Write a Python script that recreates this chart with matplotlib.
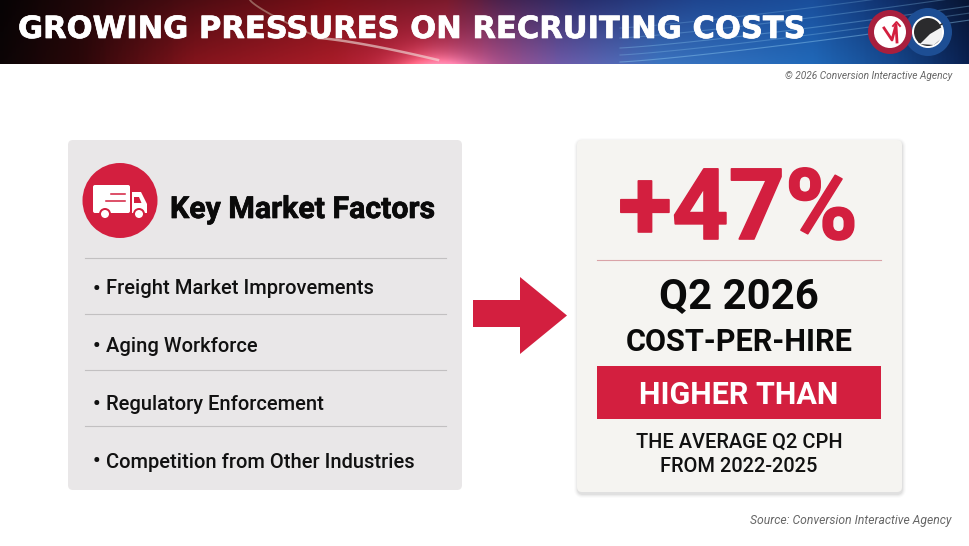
import numpy as np
import matplotlib
matplotlib.use("Agg")
import matplotlib.pyplot as plt
import matplotlib.patheffects as pe
from matplotlib.colors import LinearSegmentedColormap
from matplotlib.patches import FancyBboxPatch, Circle, Rectangle, Polygon

plt.rcParams['font.family'] = ['Roboto', 'DejaVu Sans']

TITLE = "GROWING PRESSURES ON RECRUITING COSTS"
COPYRIGHT = "© 2026 Conversion Interactive Agency"
SOURCE = "Source: Conversion Interactive Agency"
CARD_HEADING = "Key Market Factors"
FACTORS = ["Freight Market Improvements", "Aging Workforce",
           "Regulatory Enforcement", "Competition from Other Industries"]
STAT = "+47%"
PERIOD = "Q2 2026"
METRIC = "COST-PER-HIRE"
BADGE = "HIGHER THAN"
COMPARISON = ["THE AVERAGE Q2 CPH", "FROM 2022-2025"]

RED = "#d31f3f"
GREY_CARD = "#e9e7e8"
LIGHT_CARD = "#f5f4f1"

fig = plt.figure(figsize=(9.7, 5.46), dpi=100, facecolor="white")
# whole figure in pixel coords, y going down
ax = fig.add_axes([0, 0, 1, 1])
ax.set_xlim(0, 970)
ax.set_ylim(546, 0)
ax.axis("off")


def rounded(x, y, w, h, color, r=5, z=2):
    p = FancyBboxPatch((x + r, y + r), w - 2 * r, h - 2 * r,
                       boxstyle="round,pad=%d,rounding_size=%d" % (r, r),
                       fc=color, ec="none", zorder=z)
    ax.add_patch(p)
    return p


# Banner: colour runs left to right, darker along the top, with a glow low in the middle
banner_top = LinearSegmentedColormap.from_list("top", [
    (0.00, "#070304"), (0.08, "#200709"), (0.20, "#4e0c12"), (0.34, "#7a1018"),
    (0.46, "#7c1a2c"), (0.52, "#4a2350"), (0.60, "#2a2f6e"), (0.72, "#1f4690"),
    (0.84, "#1a4f9c"), (0.92, "#10306c"), (1.00, "#081634")])
banner_bottom = LinearSegmentedColormap.from_list("bottom", [
    (0.00, "#0c0506"), (0.08, "#2a0709"), (0.20, "#84141c"), (0.34, "#a81c28"),
    (0.43, "#c42a48"), (0.50, "#b04a80"), (0.58, "#6c5aa8"), (0.68, "#3c74c0"),
    (0.84, "#2068b8"), (0.92, "#164a90"), (1.00, "#0a2050")])
xx = np.linspace(0, 1, 485)
yy = np.linspace(0, 1, 64)[:, None, None]
banner = banner_top(xx)[None, :, :3] * (1 - yy) + banner_bottom(xx)[None, :, :3] * yy
glow = np.exp(-((xx - 0.45) / 0.04) ** 2)[None, :, None] * yy ** 5
banner = np.clip(banner + glow * 0.35, 0, 1)
ax.imshow(banner, aspect="auto", extent=(0, 970, 64, 0), zorder=1, interpolation="bilinear")

# light streaks across the banner
t = np.linspace(0, 1, 60)
ax.plot(250 + 70 * t, 0 + 38 * t ** 0.8, color="#d8c8b0", lw=1.3, alpha=.45, zorder=1.2)
ax.plot(318 + 120 * t, 38 + 22 * t ** 1.3, color="#f2e6e0", lw=1.8, alpha=.6, zorder=1.2)
for off, a in [(0, .45), (7, .3), (14, .35), (24, .3), (34, .25)]:
    ax.plot(620 + 350 * t, 62 - off - 42 * t ** 1.2, color="#8cc8f0", lw=.8, alpha=a, zorder=1.2)
ax.set_xlim(0, 970)
ax.set_ylim(546, 0)

ax.text(18, 29.5, TITLE, family=["DejaVu Sans"], fontsize=22,
        fontweight="bold", color="white", va="center", ha="left", zorder=3,
        path_effects=[pe.withStroke(linewidth=0.5, foreground="white")])

# Logos
ax.add_patch(Circle((928, 32), 24, fc="#1d4e94", ec="none", zorder=3))
ax.add_patch(Circle((890, 32), 22, fc="#a81f3d", ec="none", zorder=3.1))
ax.add_patch(Circle((890, 32), 16, fc="white", ec="none", zorder=3.2))
ax.plot([884, 892, 896, 897], [28, 40, 25, 42], color=RED, lw=2, zorder=3.3)
ax.plot([893, 896.5, 900], [26, 22, 26], color=RED, lw=1.4, zorder=3.3)
ax.add_patch(Circle((928, 32), 16, fc="white", ec="none", zorder=3.2))
ax.add_patch(Circle((928, 32), 14, fc="#2b2b2d", ec="none", zorder=3.3))
ax.add_patch(Polygon([[920, 44], [930, 34], [942, 27], [942, 38], [934, 45]],
                     fc="#f2f2f2", ec="none", zorder=3.35))
ax.plot([919, 928, 942], [42, 32, 24], color="#2b2b2d", lw=1, zorder=3.4)

ax.text(952, 76, COPYRIGHT, fontsize=7.25, style="italic", color="#666666",
        ha="right", va="center")
ax.text(952, 520.5, SOURCE, fontsize=8.7, style="italic", color="#666666",
        ha="right", va="center")

# Left card
rounded(68, 140, 394, 350, GREY_CARD)
ax.add_patch(Circle((120, 200.5), 37.5, fc=RED, ec="none", zorder=3))

# truck icon
rounded(93, 185, 37, 28, "white", r=2, z=4)
ax.add_patch(Polygon([[132, 192], [141, 192], [147, 204], [147, 213], [132, 213]],
                     fc="white", ec="none", zorder=4))
ax.add_patch(Polygon([[134, 197], [139, 197], [141.5, 203], [134, 203]],
                     fc=RED, ec="none", zorder=4.1))
ax.plot([111, 125], [194, 194], color=RED, lw=1.1, zorder=4.2)
ax.plot([106, 125], [200.5, 200.5], color=RED, lw=1.1, zorder=4.2)
for cx in (105, 139):
    ax.add_patch(Circle((cx, 214), 6, fc=RED, ec="none", zorder=4.3))
    ax.add_patch(Circle((cx, 214), 4, fc="white", ec="none", zorder=4.4))

ax.text(170, 210, CARD_HEADING, fontsize=21.8, fontweight="bold", color="#0a0a0a",
        ha="left", va="center", zorder=4,
        path_effects=[pe.withStroke(linewidth=0.5, foreground="#0a0a0a")])

rule_ys = [258, 314, 370, 425.5]
text_ys = [289, 346.5, 404.5, 462]
for ry in rule_ys:
    ax.plot([85, 446.5], [ry, ry], color="#c2c0c1", lw=.8, zorder=3)
for ty, label in zip(text_ys, FACTORS):
    ax.text(93, ty, "•", fontsize=15, fontweight="bold", color="#111111",
            ha="left", va="center", zorder=4)
    ax.text(106, ty, label, fontsize=14.5, fontweight="medium", color="#111111",
            ha="left", va="center", zorder=4)

# Arrow
ax.add_patch(Polygon([[473, 300], [520, 300], [520, 277], [567, 315.5], [520, 354],
                      [520, 327], [473, 327]], fc=RED, ec="none", zorder=3))

# Right card with a soft shadow
for grow, alpha in [(4, .02), (3, .03), (2, .05), (1, .08)]:
    p = rounded(577 - grow + 1, 140 - grow + 2, 325 + 2 * grow - 1, 352 + 2 * grow, "#555555",
                r=5 + grow, z=1.5)
    p.set_alpha(alpha)
rounded(577, 140, 325, 352, LIGHT_CARD, z=2)

ax.text(738, 212, STAT, fontsize=71, fontweight="bold", color=RED,
        ha="center", va="center", zorder=4,
        path_effects=[pe.withStroke(linewidth=1.2, foreground=RED)])
ax.plot([597, 881], [259.5, 259.5], color="#d9a3a8", lw=.8, zorder=3)
ax.text(739, 297.5, PERIOD, fontsize=30.2, fontweight="bold", color="#0a0a0a",
        ha="center", va="center", zorder=4)
ax.text(739, 342, METRIC, fontsize=22.1, fontweight="bold", color="#0a0a0a",
        ha="center", va="center", zorder=4)
ax.add_patch(Rectangle((597, 366), 284, 53, fc=RED, ec="none", zorder=3))
ax.text(739, 395.5, BADGE, fontsize=22, fontweight="bold", color="white",
        ha="center", va="center", zorder=4)
ax.text(739, 442.5, COMPARISON[0], fontsize=14.45, fontweight="medium", color="#111111",
        ha="center", va="center", zorder=4)
ax.text(739, 467, COMPARISON[1], fontsize=14.45, fontweight="medium", color="#111111",
        ha="center", va="center", zorder=4)

fig.savefig("out.png", dpi=100, facecolor="white")
